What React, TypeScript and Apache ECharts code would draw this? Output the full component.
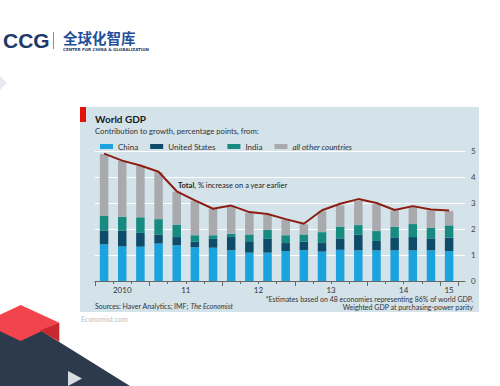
import React, { useEffect, useRef } from "react";
import * as echarts from "echarts";

// Quarterly data, 2010 Q2 – 2015 Q1
const quartersPerYear = [3, 4, 4, 4, 4, 1];
const yearLabels = ["2010", "11", "12", "13", "14", "15"];
const quarters = ["2010Q2", "2010Q3", "2010Q4", "2011Q1", "2011Q2", "2011Q3", "2011Q4", "2012Q1", "2012Q2", "2012Q3", "2012Q4", "2013Q1", "2013Q2", "2013Q3", "2013Q4", "2014Q1", "2014Q2", "2014Q3", "2014Q4", "2015Q1"];
const china = [1.41, 1.33, 1.32, 1.44, 1.37, 1.30, 1.28, 1.18, 1.09, 1.09, 1.15, 1.19, 1.13, 1.20, 1.18, 1.18, 1.18, 1.18, 1.18, 1.15];
const unitedStates = [0.53, 0.61, 0.53, 0.35, 0.32, 0.21, 0.34, 0.51, 0.44, 0.53, 0.31, 0.32, 0.33, 0.44, 0.61, 0.36, 0.50, 0.51, 0.46, 0.52];
const india = [0.57, 0.53, 0.60, 0.59, 0.48, 0.25, 0.14, 0.13, 0.26, 0.34, 0.30, 0.28, 0.42, 0.45, 0.36, 0.38, 0.40, 0.50, 0.40, 0.47];
const others = [2.37, 2.15, 1.97, 1.80, 1.27, 1.32, 1.01, 1.03, 0.84, 0.58, 0.60, 0.39, 0.81, 0.82, 0.93, 1.03, 0.63, 0.67, 0.67, 0.55];
const total = [4.90, 4.63, 4.44, 4.20, 3.45, 3.10, 2.78, 2.90, 2.65, 2.58, 2.38, 2.20, 2.72, 2.97, 3.15, 3.00, 2.73, 2.88, 2.75, 2.71];
const yTicks = [0, 1, 2, 3, 4, 5];

const FONT = "Lato";

export default function App() {
  const ref = useRef<HTMLDivElement>(null);

  useEffect(() => {
    document.body.style.margin = "0";
    const chart = echarts.init(ref.current!, null, { renderer: "svg" });

    const n = quarters.length;

    // year boundaries and label positions derived from quarter counts
    const boundaries: number[] = [0];
    const centres: number[] = [];
    let acc = 0;
    quartersPerYear.forEach((q) => {
      centres.push(acc + q / 2);
      acc += q;
      boundaries.push(acc);
    });
    const labelMap: Record<string, string> = {};
    centres.forEach((c, i) => (labelMap[String(c)] = yearLabels[i]));
    const allBoundaries = Array.from({ length: n + 1 }, (_, i) => i);

    // plot geometry: bars occupy [95, 458]; gridlines & axis run to 465
    const left = 95;
    const plotRight = 465;
    const barRight = 458.2;
    const xMax = (n * (plotRight - left)) / (barRight - left);

    const barSeries = (name: string, data: number[], color: string) => ({
      name,
      type: "bar",
      stack: "gdp",
      barWidth: 8.5,
      data,
      itemStyle: { color },
      xAxisIndex: 0,
      yAxisIndex: 0,
      z: 3,
    });

    const option: any = {
      animation: false,
      backgroundColor: "#ffffff",
      textStyle: { fontFamily: FONT },
      grid: [
        { left, right: 500 - barRight, top: 151, bottom: 105, containLabel: false },
        { left, right: 500 - plotRight, top: 151, bottom: 105, containLabel: false },
      ],
      legend: {
        left: 95,
        top: 137.5,
        itemWidth: 13,
        itemHeight: 5,
        itemGap: 12,
        icon: "rect",
        textStyle: { fontFamily: FONT, fontSize: 8, color: "#333" },
        data: [
          { name: "China" },
          { name: "United States" },
          { name: "India" },
          { name: "all other countries", textStyle: { fontStyle: "italic" } },
        ],
      },
      xAxis: [
        {
          type: "category",
          gridIndex: 0,
          data: quarters,
          show: false,
        },
        {
          type: "value",
          gridIndex: 1,
          min: 0,
          max: xMax,
          position: "bottom",
          splitLine: { show: false },
          axisLine: { show: true, lineStyle: { color: "#666", width: 1 } },
          axisTick: { show: true, length: 3, customValues: allBoundaries, lineStyle: { color: "#666" } },
          axisLabel: {
            show: true,
            customValues: centres,
            margin: 5,
            fontFamily: FONT,
            fontSize: 8,
            color: "#333",
            formatter: (v: number) => labelMap[String(v)] ?? "",
          },
        },
        {
          type: "value",
          gridIndex: 1,
          min: 0,
          max: xMax,
          position: "bottom",
          splitLine: { show: false },
          axisLine: { show: false },
          axisTick: { show: true, length: 5, customValues: boundaries, lineStyle: { color: "#666" } },
          axisLabel: { show: false },
        },
      ],
      yAxis: [
        {
          type: "value",
          gridIndex: 0,
          min: 0,
          max: 5,
          interval: 1,
          show: false,
          splitLine: { show: false },
        },
        {
          type: "value",
          gridIndex: 1,
          min: 0,
          max: 5,
          interval: 1,
          position: "right",
          axisLine: { show: false },
          axisTick: { show: false },
          splitLine: { show: true, lineStyle: { color: "#ffffff", width: 1 } },
          axisLabel: {
            margin: 6,
            fontFamily: FONT,
            fontSize: 8,
            color: "#444",
            customValues: yTicks,
          },
        },
      ],
      series: [
        barSeries("China", china, "#1ba3dd"),
        barSeries("United States", unitedStates, "#0e4c6a"),
        barSeries("India", india, "#178b80"),
        barSeries("all other countries", others, "#a9aaae"),
        {
          name: "Total",
          type: "line",
          xAxisIndex: 0,
          yAxisIndex: 0,
          data: total,
          showSymbol: false,
          symbol: "none",
          lineStyle: { color: "#8c1d12", width: 2 },
          z: 5,
        },
      ],
      graphic: [
        // chart panel
        { type: "rect", z: -10, shape: { x: 80, y: 107, width: 399, height: 205 }, style: { fill: "#d4e2ea" } },
        { type: "rect", z: 10, shape: { x: 80, y: 107, width: 6, height: 15 }, style: { fill: "#e3120b" } },
        { type: "text", z: 10, x: 95, y: 119, style: { text: "World GDP", font: `bold 10px ${FONT}`, fill: "#1a1a1a", textVerticalAlign: "middle" } },
        { type: "text", z: 10, x: 95, y: 130.5, style: { text: "Contribution to growth, percentage points, from:", font: `7.7px ${FONT}`, fill: "#333", textVerticalAlign: "middle" } },
        {
          type: "text", z: 10, x: 178, y: 185,
          style: {
            text: "{b|Total}, % increase on a year earlier",
            font: `7.5px ${FONT}`, fill: "#222", textVerticalAlign: "middle",
            rich: { b: { fontWeight: "bold", fontFamily: FONT, fontSize: 7.5, fill: "#222" } },
          },
        },
        {
          type: "text", z: 10, x: 95, y: 306,
          style: {
            text: "Sources: Haver Analytics; IMF; {i|The Economist}",
            font: `7px ${FONT}`, fill: "#333", textVerticalAlign: "middle",
            rich: { i: { fontStyle: "italic", fontFamily: FONT, fontSize: 7, fill: "#333" } },
          },
        },
        { type: "text", z: 10, x: 473, y: 299, style: { text: "*Estimates based on 48 economies representing 86% of world GDP.", font: `7px ${FONT}`, fill: "#333", textAlign: "right", textVerticalAlign: "middle" } },
        { type: "text", z: 10, x: 473, y: 306.5, style: { text: "Weighted GDP at purchasing-power parity", font: `7px ${FONT}`, fill: "#333", textAlign: "right", textVerticalAlign: "middle" } },
        { type: "text", z: 10, x: 81, y: 318.5, style: { text: "Economist.com", font: `7px ${FONT}`, fill: "#b9bcc0", textVerticalAlign: "middle" } },
        // CCG logo
        { type: "text", z: 10, x: 3, y: 40, style: { text: "CCG", font: `900 21px "Liberation Sans", Arial, sans-serif`, fill: "#1b396b", textVerticalAlign: "middle" } },
        { type: "line", z: 10, shape: { x1: 53.5, y1: 32, x2: 53.5, y2: 49 }, style: { stroke: "#8a8f99", lineWidth: 1 } },
        { type: "text", z: 10, x: 63, y: 37, style: { text: "全球化智库", font: `bold 14.5px "Noto Sans CJK SC"`, fill: "#1f4f9b", textVerticalAlign: "middle" } },
        { type: "text", z: 10, x: 63, y: 49.5, style: { text: "CENTER FOR CHINA & GLOBALIZATION", font: `bold 4px "DejaVu Sans"`, fill: "#1d3c70", textVerticalAlign: "middle" } },
        // slide decorations
        { type: "polygon", z: 1, shape: { points: [[0, 76], [7, 83], [0, 90]] }, style: { fill: "#e6e9ee" } },
        { type: "polygon", z: 1, shape: { points: [[0, 315], [40, 330], [130, 386], [0, 386]] }, style: { fill: "#2d3a4e" } },
        { type: "polygon", z: 2, shape: { points: [[-18, 323], [20.7, 305], [59.3, 322.7], [20.7, 341]] }, style: { fill: "#f2444c" } },
        { type: "polygon", z: 2, shape: { points: [[40, 330.5], [59.3, 322.7], [59.3, 341.7]] }, style: { fill: "#c9282f" } },
        { type: "polygon", z: 2, shape: { points: [[68, 371], [82, 378.5], [68, 386]] }, style: { fill: "#d9dde3" } },
      ],
    };

    chart.setOption(option);
    return () => chart.dispose();
  }, []);

  return <div ref={ref} style={{ width: 500, height: 386 }} />;
}
